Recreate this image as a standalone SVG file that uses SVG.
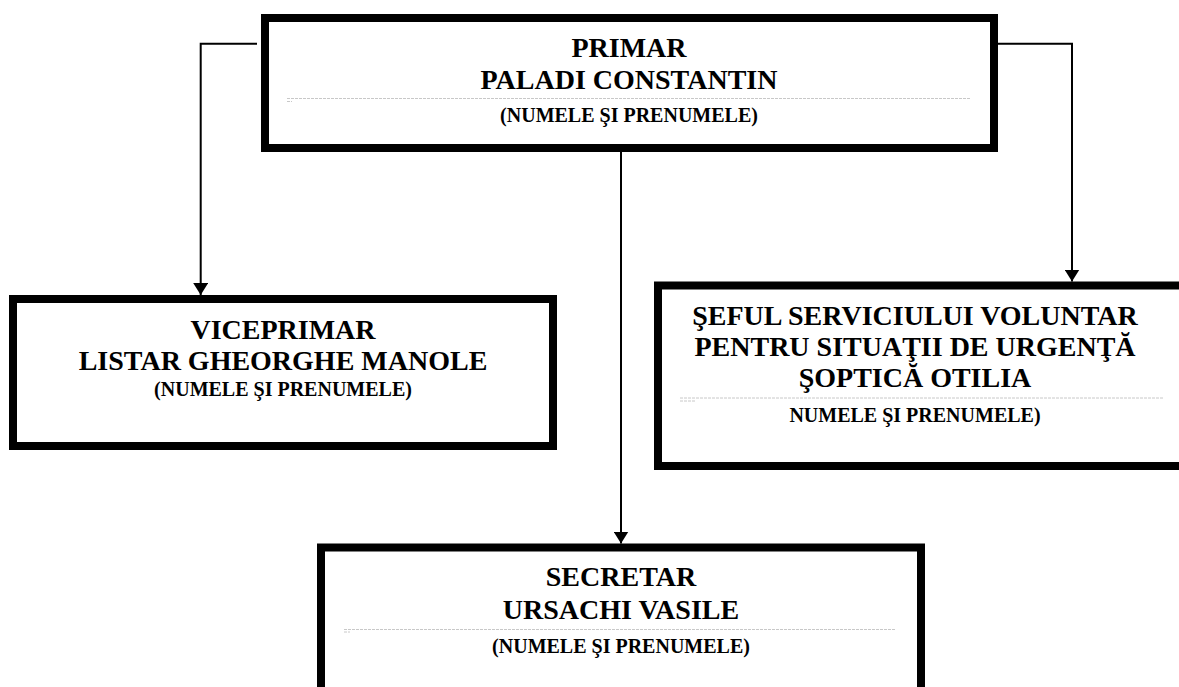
<svg xmlns="http://www.w3.org/2000/svg" width="1179" height="687" viewBox="0 0 1179 687">
<style>
.box{fill:#fff;stroke:#000;stroke-width:8}
.t{font-family:"Liberation Serif","Times New Roman",serif;font-weight:bold;text-anchor:middle;fill:#000}
.big{font-size:28px}
.sm{font-size:20px}
.dot{stroke:#c8c8c8;stroke-width:1;stroke-dasharray:3 1}
.conn{fill:none;stroke:#000;stroke-width:2}
</style>
<defs>
<marker id="ah" markerUnits="userSpaceOnUse" markerWidth="12" markerHeight="15" refX="12" refY="7.5" orient="auto">
<path d="M0,0 L12,7.5 L0,15 z" fill="#000"/>
</marker>
</defs>
<g id="connectors">
<polyline class="conn" points="257,43.7 200.7,43.7 200.7,295" marker-end="url(#ah)"/>
<polyline class="conn" points="998,43.7 1072,43.7 1072,281.5" marker-end="url(#ah)"/>
<line class="conn" x1="621" y1="152" x2="621" y2="543.5" marker-end="url(#ah)"/>
</g>
<g id="primar">
<rect class="box" x="265" y="18" width="729" height="130"/>
<text class="t big" x="629" y="57">PRIMAR</text>
<text class="t big" x="629" y="89">PALADI CONSTANTIN</text>
<line class="dot" x1="287" y1="98.5" x2="970" y2="98.5"/>
<line class="dot" x1="287" y1="101.5" x2="292" y2="101.5"/>
<text class="t sm" x="629" y="122">(NUMELE ŞI PRENUMELE)</text>
</g>
<g id="viceprimar">
<rect class="box" x="13" y="299" width="540" height="147"/>
<text class="t big" x="283" y="339">VICEPRIMAR</text>
<text class="t big" x="283" y="370">LISTAR GHEORGHE MANOLE</text>
<text class="t sm" x="283" y="396">(NUMELE ŞI PRENUMELE)</text>
</g>
<g id="sef">
<rect class="box" x="658" y="285.5" width="530" height="180.5"/>
<text class="t big" x="915" y="325">ŞEFUL SERVICIULUI VOLUNTAR</text>
<text class="t big" x="915" y="356">PENTRU SITUAŢII DE URGENŢĂ</text>
<text class="t big" x="915" y="387">ŞOPTICĂ OTILIA</text>
<line class="dot" x1="680" y1="398" x2="1163" y2="398"/>
<line class="dot" x1="680" y1="401" x2="695" y2="401"/>
<text class="t sm" x="915" y="422">NUMELE ŞI PRENUMELE)</text>
</g>
<g id="secretar">
<rect class="box" x="321" y="547.5" width="600" height="160"/>
<text class="t big" x="621" y="586">SECRETAR</text>
<text class="t big" x="621" y="619">URSACHI VASILE</text>
<line class="dot" x1="344" y1="629.5" x2="895" y2="629.5"/>
<line class="dot" x1="344" y1="632" x2="350" y2="632"/>
<text class="t sm" x="621" y="653">(NUMELE ŞI PRENUMELE)</text>
</g>
</svg>
